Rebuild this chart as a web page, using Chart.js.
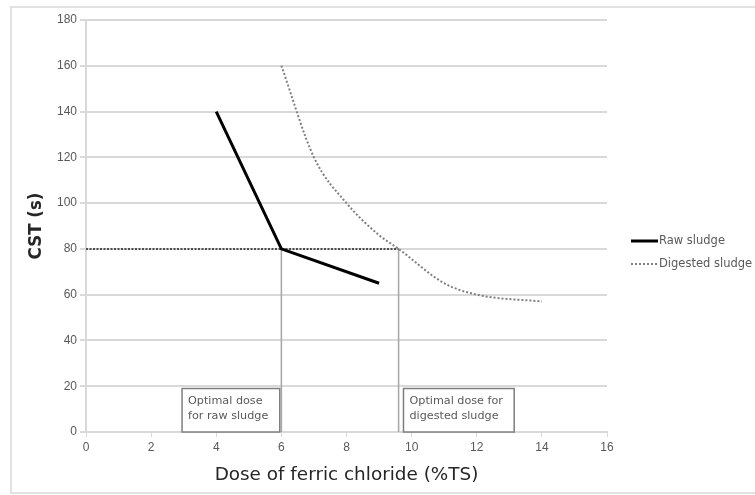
<!DOCTYPE html>
<html lang="en">
<head>
  <meta charset="UTF-8">
  <title>CST vs ferric chloride dose</title>
  <script src="https://cdn.jsdelivr.net/npm/chart.js@4.4.0/dist/chart.umd.min.js"></script>
  <style>
    body { margin: 0; background: #fff; }
    .wrap { width: 755px; height: 495px; position: relative; }
  </style>
</head>
<body>
  <div class="wrap"><canvas id="cst" width="755" height="495"></canvas></div>
  <script>
    // values
    const rawDose = [4, 6, 9];
    const rawCST = [140, 80, 65];
    const digDose = [6, 7, 8, 9, 9.6, 11, 12, 14];
    const digCST = [160, 120, 100, 86, 80, 65, 60, 57];
    const optimalDose = [6, 9.6];
    const optimalCST = 80;
    const seriesNames = ['Raw sludge', 'Digested sludge'];
    const boxLabels = [['Optimal dose', 'for raw sludge'], ['Optimal dose for', 'digested sludge']];

    const pts = (xs, ys) => xs.map((x, i) => ({ x, y: ys[i] }));
    const grey = '#595959';

    const extras = {
      id: 'extras',
      beforeDraw(chart) {
        const c = chart.ctx;
        c.save();
        c.fillStyle = '#fff';
        c.fillRect(0, 0, chart.width, chart.height);
        c.strokeStyle = '#d9d9d9';
        c.lineWidth = 1.5;
        c.strokeRect(11, 7, chart.width, 486);
        c.restore();
      },
      afterDraw(chart) {
        const c = chart.ctx, xs = chart.scales.x, ys = chart.scales.y;
        c.save();
        // annotation boxes
        const spans = [[2.95, 5.95], [9.75, 13.15]];
        c.font = '11.2px "DejaVu Sans"';
        c.textBaseline = 'middle';
        spans.forEach((s, i) => {
          const x0 = xs.getPixelForValue(s[0]), x1 = xs.getPixelForValue(s[1]);
          const y0 = ys.getPixelForValue(19), y1 = ys.getPixelForValue(0);
          c.fillStyle = '#fff';
          c.fillRect(x0, y0, x1 - x0, y1 - y0);
          c.strokeStyle = '#7f7f7f';
          c.lineWidth = 1.5;
          c.strokeRect(x0, y0, x1 - x0, y1 - y0);
          c.fillStyle = grey;
          boxLabels[i].forEach((t, j) => c.fillText(t, x0 + 6, y0 + 13 + j * 15));
        });
        // legend
        const lx = 631, ly = [241, 264];
        c.font = '11.5px "DejaVu Sans"';
        chart.data.datasets.slice(0, 2).forEach((ds, i) => {
          c.strokeStyle = ds.borderColor;
          c.lineWidth = ds.borderWidth;
          c.setLineDash(ds.borderDash || []);
          c.beginPath();
          c.moveTo(lx, ly[i]);
          c.lineTo(lx + 27, ly[i]);
          c.stroke();
          c.setLineDash([]);
          c.fillStyle = grey;
          c.fillText(ds.label, lx + 28, ly[i]);
        });
        c.restore();
      }
    };

    new Chart(document.getElementById('cst'), {
      type: 'scatter',
      data: {
        datasets: [
          {
            label: seriesNames[0],
            data: pts(rawDose, rawCST),
            showLine: true, borderColor: '#000', borderWidth: 3,
            pointRadius: 0, tension: 0
          },
          {
            label: seriesNames[1],
            data: pts(digDose, digCST),
            showLine: true, borderColor: '#7f7f7f', borderWidth: 2, borderDash: [2, 2],
            pointRadius: 0, cubicInterpolationMode: 'monotone'
          },
          {
            label: 'level',
            data: [{ x: 0, y: optimalCST }, { x: optimalDose[1], y: optimalCST }],
            showLine: true, borderColor: '#4d4d4d', borderWidth: 2, borderDash: [2, 1.5],
            pointRadius: 0
          },
          ...optimalDose.map(d => ({
            label: 'dose',
            data: [{ x: d, y: optimalCST }, { x: d, y: 0 }],
            showLine: true, borderColor: '#a6a6a6', borderWidth: 1.5,
            pointRadius: 0
          }))
        ]
      },
      options: {
        responsive: false,
        animation: false,
        devicePixelRatio: 1,
        layout: { padding: { left: 12, top: 20, right: 148, bottom: 0 } },
        plugins: { legend: { display: false }, tooltip: { enabled: false } },
        scales: {
          x: {
            min: 0, max: 16,
            ticks: { stepSize: 2, maxRotation: 0, color: grey, font: { family: 'Liberation Sans', size: 12 } },
            grid: { drawOnChartArea: false, color: '#d9d9d9', tickLength: 5 },
            border: { color: '#d9d9d9', width: 2 },
            title: { display: true, text: 'Dose of ferric chloride (%TS)', color: '#262626',
                     font: { family: 'DejaVu Sans', size: 18.4 }, padding: { top: 0, bottom: 9 } },
            afterFit: s => { s.height = 63; }
          },
          y: {
            min: 0, max: 180,
            ticks: { stepSize: 20, color: grey, font: { family: 'Liberation Sans', size: 12 } },
            grid: { color: '#d9d9d9', lineWidth: 2, tickLength: 6 },
            border: { color: '#d9d9d9', width: 2 },
            title: { display: true, text: 'CST (s)', color: '#262626',
                     font: { family: '"DejaVu Sans Condensed", "DejaVu Sans"', size: 18.5, weight: 'bold' }, padding: { top: 13, bottom: 0 } },
            afterFit: s => { s.width = 74; }
          }
        }
      },
      plugins: [extras]
    });
  </script>
</body>
</html>
